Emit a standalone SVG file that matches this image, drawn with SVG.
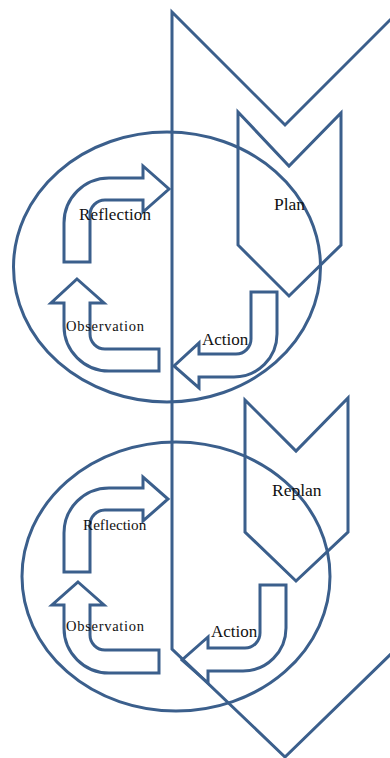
<svg xmlns="http://www.w3.org/2000/svg" width="390" height="758" viewBox="0 0 390 758">
<style>
.s{fill:none;stroke:#3B5F8C;stroke-width:3;stroke-linejoin:miter}
.t{font-family:"Liberation Serif","Times New Roman",serif;fill:#111}
</style>
<rect width="390" height="758" fill="#fff"/>
<g id="cycle1"><ellipse class="s" cx="167" cy="267" rx="153.5" ry="135"/></g>
<g id="cycle2"><ellipse class="s" cx="176" cy="576.5" rx="154" ry="134.5"/></g>
<g id="frame"><path class="s" d="M172,12 L285,125 L398,12 L398,647 L285,757 L172,649 Z"/></g>
<g id="plan"><path class="s" d="M238,112 L289,166 L341,113 L341,245 L289,296 L238,245 Z"/><text class="t" x="274" y="210" font-size="17.5">Plan</text></g>
<g id="replan"><path class="s" d="M245,400 L296,451 L348,398 L348,532 L296,581 L245,532 Z"/><text class="t" x="272" y="496" font-size="17.5">Replan</text></g>
<g id="connectors">
<g id="reflection1"><path class="s" d="M64,262 L64,223 A45,45 0 0 1 109,178 L143,178 L143,166 L169,189 L143,212 L143,200 L105,200 A15,15 0 0 0 90,215 L90,262 Z"/><text class="t" x="79" y="220" font-size="17" textLength="72" lengthAdjust="spacing">Reflection</text></g>
<g id="observation1"><path class="s" d="M77,279 L104,303 L90,303 L90,334 A15,15 0 0 0 105,349 L159,349 L159,371 L109,371 A45,45 0 0 1 64,326 L64,303 L51,303 Z"/><text class="t" x="66" y="331" font-size="14.5" textLength="78" lengthAdjust="spacing">Observation</text></g>
<g id="action1"><path class="s" d="M277,292 L277,334 A43,43 0 0 1 234,377 L199,377 L199,388 L174,366 L199,343 L199,354 L236,354 A15,15 0 0 0 251,339 L251,292 Z"/><text class="t" x="202" y="345" font-size="17">Action</text></g>
<g id="reflection2"><path class="s" d="M64,572 L64,533 A45,45 0 0 1 109,488 L143,488 L143,477 L168,499 L143,521 L143,510 L105,510 A15,15 0 0 0 90,525 L90,572 Z"/><text class="t" x="83" y="530" font-size="15.2">Reflection</text></g>
<g id="observation2"><path class="s" d="M78,582 L104,605 L90,605 L90,635 A15,15 0 0 0 105,650 L159,650 L159,673 L109,673 A45,45 0 0 1 64,628 L64,605 L52,605 Z"/><text class="t" x="66" y="631" font-size="14.5" textLength="78" lengthAdjust="spacing">Observation</text></g>
<g id="action2"><path class="s" d="M286,585 L286,628 A43,43 0 0 1 243,671 L208,671 L208,683 L182,660 L208,637 L208,648 L245,648 A15,15 0 0 0 260,633 L260,585 Z"/><text class="t" x="211" y="637" font-size="17">Action</text></g>
</g>
</svg>
